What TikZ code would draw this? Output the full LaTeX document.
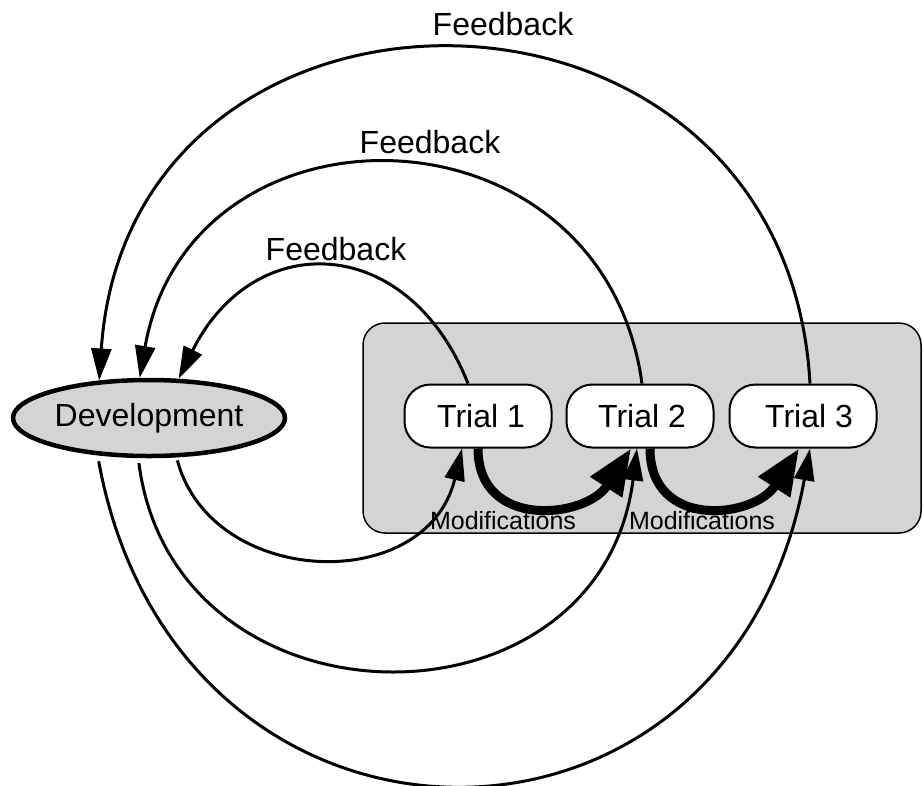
\documentclass[tikz,border=0pt]{standalone}
\usepackage{fontspec}
\setmainfont{Liberation Sans}
\usetikzlibrary{arrows.meta,positioning,shapes.geometric}
\definecolor{trialgray}{RGB}{212,212,212}

\begin{document}
\begin{tikzpicture}[x=1pt,y=-1pt,font=\fontsize{32}{38}\selectfont,
    trialbox/.style={draw,line width=2pt,fill=white,rounded corners=26pt,
      minimum width=147pt,minimum height=63pt,inner sep=0pt},
    thinarrow/.style={line width=3pt,-{Triangle[length=32pt,width=20pt]}},
    modarrow/.style={line width=9pt,-{Triangle[length=46pt,width=36pt]}},
    modlabel/.style={font=\fontsize{25}{30}\selectfont,inner sep=0pt}]
  \useasboundingbox (0,0) rectangle (923,785);

  \node[draw,line width=1.5pt,fill=trialgray,rounded corners=22pt,
    minimum width=558pt,minimum height=210pt] (panel) at (642,428) {};
  \node[ellipse,draw,line width=4.5pt,fill=trialgray,inner sep=0pt,
    minimum width=272pt,minimum height=76pt] (dev) at (149,418) {Development};

  \node[trialbox] (t1) at (478,416) {\hspace{6pt}Trial 1};
  \node[trialbox,right=13pt of t1] (t2) {\hspace{4pt}Trial 2};
  \node[trialbox,right=14pt of t2] (t3) {\hspace{12pt}Trial 3};

  % feedback back to development
  \draw[thinarrow] ([xshift=-10pt]t1.north) .. controls +(-60,-151) and +(75,-151) .. (dev.53);
  \draw[thinarrow] ([xshift=2pt]t2.north) .. controls +(-40,-288) and +(50,-288) .. (dev.103);
  \draw[thinarrow] ([xshift=7pt]t3.north) .. controls +(-25,-443) and +(30,-443) .. (dev.143);

  % development out to the trials
  \draw[thinarrow,shorten <=3pt] (dev.305) .. controls +(35,131) and +(-35,147) .. ([xshift=-16pt]t1.south);
  \draw[thinarrow,shorten <=5pt] (dev.255) .. controls +(36,279) and +(-37,292) .. ([xshift=-3pt]t2.south);
  \draw[thinarrow,shorten <=6pt] (dev.216) .. controls +(80,435) and +(-82,447) .. ([xshift=7pt]t3.south);

  \draw[modarrow] (t1.south) .. controls +(0,82) and +(-45,70) .. ([xshift=-9pt]t2.south);
  \draw[modarrow] ([xshift=10pt]t2.south) .. controls +(0,82) and +(-45,70) .. ([xshift=-4pt]t3.south);

  \node[modlabel] (mod1) at (503,521) {Modifications};
  \node[modlabel] (mod2) at (702,521) {Modifications};
  \node[inner sep=0pt] (fb1) at (336,249) {Feedback};
  \node[inner sep=0pt] (fb2) at (430,142) {Feedback};
  \node[inner sep=0pt] (fb3) at (503,24) {Feedback};
\end{tikzpicture}
\end{document}
